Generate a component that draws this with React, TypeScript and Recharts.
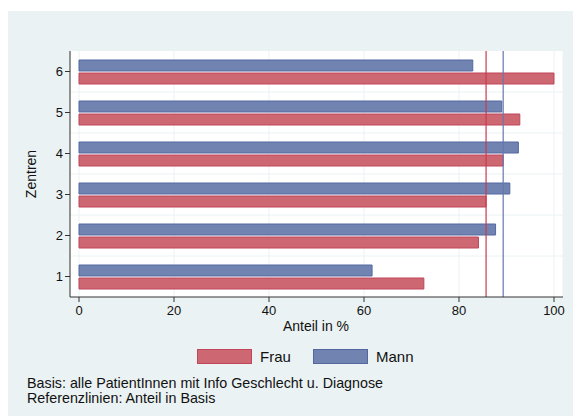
import React from "react";
import { BarChart, Bar, XAxis, YAxis, CartesianGrid, ReferenceLine } from "recharts";

const zentren = ["6", "5", "4", "3", "2", "1"];
const frau = [100, 92.8, 89.3, 85.7, 84.1, 72.6];
const mann = [82.9, 89.0, 92.5, 90.7, 87.7, 61.7];
const refFrau = 85.7;
const refMann = 89.3;
const xTicks = [0, 20, 40, 60, 80, 100];

const data = zentren.map((z, i) => ({ zentrum: z, Frau: frau[i], Mann: mann[i] }));

const RED = "#CD6772";
const RED_STROKE = "#C0475A";
const BLUE = "#7083B1";
const BLUE_STROKE = "#5468A0";
const BG = "#EAF2F3";
const FONT = "'Liberation Sans', Arial, Helvetica, sans-serif";

export default function App() {
  const n = zentren.length;
  return (
    <div
      style={{
        position: "fixed",
        left: 8,
        top: 11,
        width: 565,
        height: 405,
        background: BG,
        fontFamily: FONT,
        overflow: "hidden",
      }}
    >
      <BarChart
        width={565}
        height={405}
        data={data}
        layout="vertical"
        margin={{ top: 40, right: 10, left: 12, bottom: 79 }}
        barSize={11}
        barGap={2}
        style={{ fontFamily: FONT }}
      >
        <CartesianGrid
          fill="#ffffff"
          stroke={BG}
          strokeWidth={1}
          horizontalCoordinatesGenerator={({ offset }: any) => {
            const arr: number[] = [];
            for (let k = 1; k < n; k++) arr.push(offset.top + (k * offset.height) / n);
            return arr;
          }}
        />
        <XAxis
          type="number"
          domain={[-1.895, 101.895]}
          allowDataOverflow
          ticks={xTicks}
          height={40}
          tickSize={5}
          tickMargin={4}
          stroke="#333"
          tick={{ fill: "#111", fontSize: 13, fontFamily: FONT }}
        />
        <YAxis
          type="category"
          dataKey="zentrum"
          width={50}
          tickSize={5}
          tickMargin={2}
          stroke="#333"
          tick={{ fill: "#111", fontSize: 13, fontFamily: FONT }}
        />
        <ReferenceLine x={refFrau} stroke="#C83A4E" strokeWidth={1.2} />
        <ReferenceLine x={refMann} stroke="#6478AE" strokeWidth={1.2} />
        <Bar dataKey="Mann" fill={BLUE} stroke={BLUE_STROKE} strokeWidth={1} isAnimationActive={false} />
        <Bar dataKey="Frau" fill={RED} stroke={RED_STROKE} strokeWidth={1} isAnimationActive={false} />
      </BarChart>

      {/* Axis titles */}
      <div
        style={{
          position: "absolute",
          left: 208,
          width: 200,
          top: 306,
          textAlign: "center",
          fontSize: 14,
          lineHeight: "18px",
          color: "#111",
        }}
      >
        Anteil in %
      </div>
      <div
        style={{
          position: "absolute",
          left: 23 - 50,
          top: 163 - 9,
          width: 100,
          height: 18,
          lineHeight: "18px",
          textAlign: "center",
          fontSize: 14,
          color: "#111",
          transform: "rotate(-90deg)",
        }}
      >
        Zentren
      </div>

      {/* Legend */}
      <div
        style={{
          position: "absolute",
          left: 189,
          top: 338,
          width: 53,
          height: 13,
          background: RED,
          border: `1px solid ${RED_STROKE}`,
        }}
      />
      <div
        style={{
          position: "absolute",
          left: 252,
          top: 336,
          fontSize: 15,
          lineHeight: "19px",
          color: "#111",
        }}
      >
        Frau
      </div>
      <div
        style={{
          position: "absolute",
          left: 305,
          top: 338,
          width: 53,
          height: 13,
          background: BLUE,
          border: `1px solid ${BLUE_STROKE}`,
        }}
      />
      <div
        style={{
          position: "absolute",
          left: 368,
          top: 336,
          fontSize: 15,
          lineHeight: "19px",
          color: "#111",
        }}
      >
        Mann
      </div>

      {/* Notes */}
      <div
        style={{
          position: "absolute",
          left: 19,
          top: 365,
          fontSize: 14.3,
          lineHeight: "14.5px",
          color: "#111",
          whiteSpace: "nowrap",
        }}
      >
        <div>Basis: alle PatientInnen mit Info Geschlecht u. Diagnose</div>
        <div>Referenzlinien: Anteil in Basis</div>
      </div>
    </div>
  );
}
